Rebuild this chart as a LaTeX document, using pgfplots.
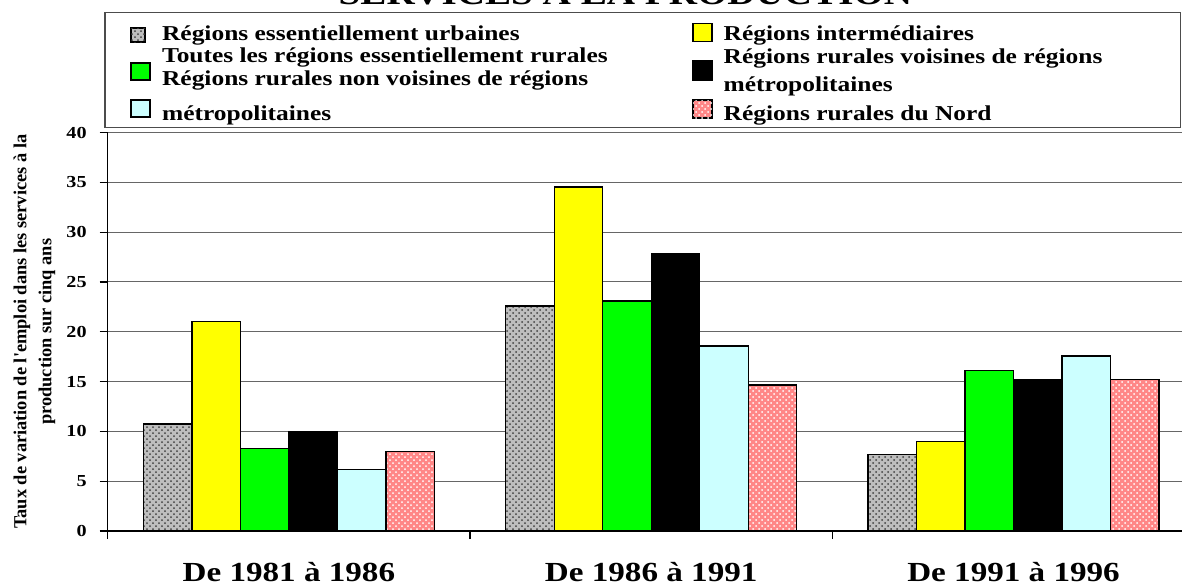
\documentclass[border=0pt]{standalone}
\usepackage{fontspec}
\setmainfont{Liberation Serif}[FakeStretch=1.2]
\newfontfamily\ylabfont{Liberation Serif}
\usepackage{pgfplots}
\pgfplotsset{compat=1.18}
\usetikzlibrary{patterns}
\definecolor{cyellow}{RGB}{255,255,0}
\definecolor{cgreen}{RGB}{0,255,0}
\definecolor{clblue}{RGB}{204,255,255}
\definecolor{cpink}{RGB}{255,135,135}
\definecolor{cgrey}{RGB}{190,190,190}
\tikzset{
  urbstyle/.style={fill=cgrey, postaction={pattern=crosshatch dots, pattern color=black!75}},
  pinkstyle/.style={fill=cpink, postaction={pattern=crosshatch dots, pattern color=white}},
}
\begin{document}
\begin{tikzpicture}
\begin{axis}[
  at={(0,0)}, anchor=south west,
  scale only axis, width=543.5pt, height=199.25pt,
  xmin=-0.5, xmax=2.5, ymin=0, ymax=40,
  ytick={0,5,...,40},
  xtick={-0.5,0.5,1.5,2.5}, xticklabels={,,,},
  extra x ticks={0,1,2},
  extra x tick labels={De 1981 à 1986, De 1986 à 1991, De 1991 à 1996},
  extra x tick style={major tick length=0pt},
  xticklabel style={font=\bfseries\fontsize{13.8}{16}\selectfont, anchor=base, yshift=-25pt},
  yticklabel style={font=\bfseries\fontsize{8.4}{10}\selectfont, xshift=-3pt},
  /pgf/number format/assume math mode=true,
  axis x line*=bottom, axis y line*=left,
  axis line style={-, black, line width=0.6pt},
  tick style={black, line width=0.6pt},
  tick align=outside, major tick length=4pt,
  ymajorgrids, grid style={black!60, line width=0.55pt},
  ybar=0pt, bar width=24.25pt,
  ylabel={Taux de variation de l'emploi dans les services à la\\production sur cinq ans},
  ylabel style={at={(axis description cs:-0.0675,0.5)}, anchor=center, align=center, font=\ylabfont\bfseries\fontsize{9.2}{12.5}\selectfont},
]
\addplot[draw=black, line width=0.7pt, urbstyle] coordinates {(0,10.75) (1,22.6) (2,7.7)};
\addplot[draw=black, line width=0.7pt, fill=cyellow] coordinates {(0,21.0) (1,34.55) (2,8.97)};
\addplot[draw=black, line width=0.7pt, fill=cgreen] coordinates {(0,8.27) (1,23.1) (2,16.1)};
\addplot[draw=black, line width=0.7pt, fill=black] coordinates {(0,9.95) (1,27.8) (2,15.17)};
\addplot[draw=black, line width=0.7pt, fill=clblue] coordinates {(0,6.15) (1,18.57) (2,17.57)};
\addplot[draw=black, line width=0.7pt, pinkstyle] coordinates {(0,7.97) (1,14.65) (2,15.2)};
\end{axis}
\begin{scope}[shift={(-53.85pt,265.5pt)}, x=0.5pt, y=-0.5pt]
  \node[anchor=base, inner sep=0, font=\bfseries\fontsize{16.3}{18}\selectfont] at (625.5,4) {SERVICES À LA PRODUCTION};
  \draw[black!70, line width=0.6pt, fill=white] (105,12.3) rectangle (1180.5,127.7);
  \draw[black, line width=0.6pt, urbstyle] (131,28) rectangle (145,42);
  \draw[black, line width=0.6pt, fill=cgreen] (131,63) rectangle (150,80);
  \draw[black, line width=0.6pt, fill=clblue] (131,100) rectangle (150,117);
  \draw[black, line width=0.6pt, fill=cyellow] (693,23.3) rectangle (712,41.7);
  \draw[black, line width=0.6pt, fill=black] (693,61) rectangle (712,80);
  \draw[black, line width=0.6pt, pinkstyle] (693,100) rectangle (712,118);
  \begin{scope}[every node/.style={anchor=base west, inner sep=0, font=\bfseries\fontsize{10.6}{12}\selectfont}]
    \node at (161.7,40) {Régions essentiellement urbaines};
    \node at (161.7,62.7) {Toutes les régions essentiellement rurales};
    \node at (161.7,85.7) {Régions rurales non voisines de régions};
    \node at (161.7,120) {métropolitaines};
    \node at (723.3,40) {Régions intermédiaires};
    \node at (723.3,63) {Régions rurales voisines de régions};
    \node at (723.3,91.7) {métropolitaines};
    \node at (723.3,120) {Régions rurales du Nord};
  \end{scope}
  \pgfresetboundingbox
  \useasboundingbox (0,0) rectangle (1182,586);
\end{scope}
\end{tikzpicture}
\end{document}
